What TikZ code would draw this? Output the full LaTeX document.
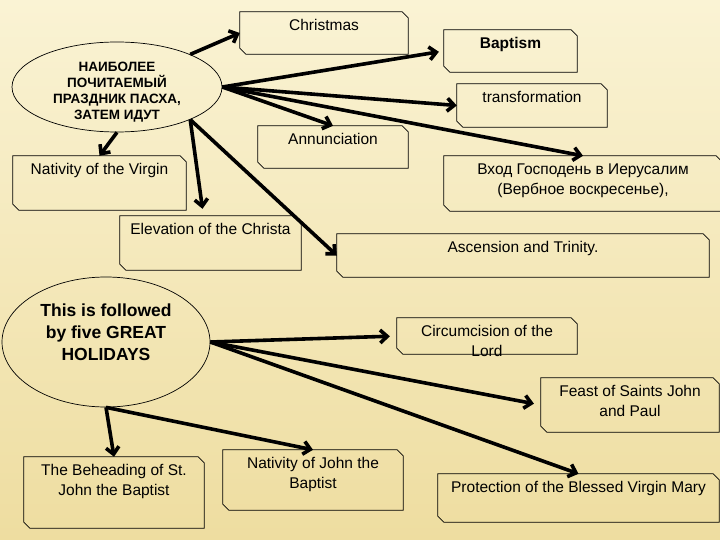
\documentclass[tikz,border=0pt]{standalone}
\usepackage{fontspec}
\setmainfont{Liberation Sans}
\usepackage{tikz}
\usetikzlibrary{arrows.meta,shapes.geometric}
\definecolor{papertop}{RGB}{250,243,212}
\definecolor{paperbot}{RGB}{238,221,160}
\tikzset{
  feast/.style={inner sep=0pt, font=\fontsize{15.5}{19.5}\selectfont},
  boxline/.style={black, line width=0.8pt},
  oval/.style={ellipse, draw, line width=0.7pt, inner sep=0pt},
  ovaltext/.style={align=center, font=\bfseries\fontsize{13.5}{16}\selectfont},
  bigovaltext/.style={align=center, font=\bfseries\fontsize{17.5}{22}\selectfont},
  link/.style={-{Straight Barb[length=7pt,width=13pt]}, line width=3.6pt},
}
% text box with the words at the top
\newcommand{\boxtxt}[3]{\parbox[c][#2pt][t]{#1pt}{\centering\vspace*{5pt}\strut#3}}
% outline with two cut corners
\newcommand{\snip}[1]{\draw[boxline] (#1.north west) -- ([xshift=-6pt]#1.north east)
  -- ([yshift=-6pt]#1.north east) -- (#1.south east) -- ([xshift=6pt]#1.south west)
  -- ([yshift=6pt]#1.south west) -- cycle;}

\begin{document}
\begin{tikzpicture}[x=1pt,y=-1pt]
  \useasboundingbox (0,0) rectangle (720,540);
  \shade[top color=papertop, bottom color=paperbot] (0,0) rectangle (720,540);
  % ---------------- ovals ----------------
  \node[oval, minimum width=210pt, minimum height=90pt,
    label={[ovaltext, yshift=-5.5pt]center:{НАИБОЛЕЕ\\ПОЧИТАЕМЫЙ\\ПРАЗДНИК ПАСХА,\\ЗАТЕМ ИДУТ}}]
    (easter) at (117,87) {};
  \node[oval, minimum width=208pt, minimum height=130pt,
    label={[bigovaltext, yshift=10pt]center:{This is followed\\by five GREAT\\HOLIDAYS}}]
    (follow) at (106,342) {};
  % ---------------- feast boxes ----------------
  \node[feast] (christmas) at (324,33)    {\boxtxt{168}{42}{Christmas}};
  \node[feast] (baptism)   at (510.5,51)  {\boxtxt{133}{42}{\bfseries Baptism}};
  \node[feast] (transf)    at (532,105.5) {\boxtxt{150}{43}{transformation}};
  \node[feast] (annunc)    at (333,147)   {\boxtxt{150}{42}{Annunciation}};
  \node[feast] (entry)     at (583,183.5) {\boxtxt{278}{55}{Вход Господень в Иерусалим\\(Вербное воскресенье),}};
  \node[feast] (virgin)    at (99.5,183)  {\boxtxt{173}{54}{Nativity of the Virgin}};
  \node[feast] (elev)      at (210.5,243) {\boxtxt{181}{54}{Elevation of the Christa}};
  \node[feast] (asc)       at (523,255.5) {\boxtxt{372}{43}{Ascension and Trinity.}};
  \node[feast] (circ)      at (487,336)   {\boxtxt{180}{36}{Circumcision of the\\Lord}};
  \node[feast] (feastsj)   at (630,405)   {\boxtxt{178}{54}{Feast of Saints John\\and Paul}};
  \node[feast] (prot)      at (578.5,498) {\boxtxt{281}{48}{Protection of the Blessed Virgin Mary}};
  \node[feast] (behead)    at (114,492.5) {\boxtxt{180}{71}{The Beheading of St.\\John the Baptist}};
  \node[feast] (njohn)     at (313,480)   {\boxtxt{180}{60}{Nativity of John the\\Baptist}};
  \foreach \b in {christmas,baptism,transf,annunc,entry,virgin,elev,asc,circ,feastsj,prot,behead,njohn}
    { \snip{\b} }
  % ---------------- arrows ----------------
  \draw[link] (easter.24) -- (christmas.west);
  \draw[link, shorten >=5pt] (easter.east) -- (baptism.west);
  \foreach \t/\a in {transf/west,annunc/north,entry/north}
    { \draw[link] (easter.east) -- (\t.\a); }
  \draw[link] (easter.south) -- (virgin.north);
  \draw[link] (easter.-24) -- ([xshift=-8pt,yshift=7pt]elev.north);
  \draw[link] (easter.-24) -- (asc.west);
  \draw[link, shorten >=7pt] (follow.east) -- (circ.west);
  \draw[link, shorten >=7pt] (follow.east) -- (feastsj.west);
  \draw[link] (follow.east) -- (prot.north);
  \draw[link] (follow.south) -- (behead.north);
  \draw[link] (follow.south) -- (njohn.north);
\end{tikzpicture}
\end{document}
